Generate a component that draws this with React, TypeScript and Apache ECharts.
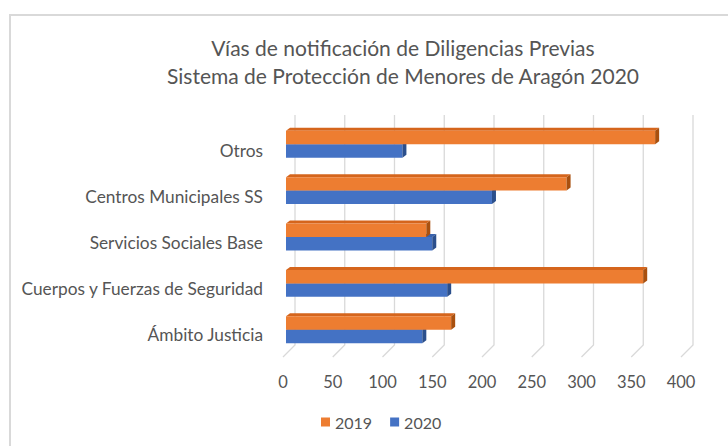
import React, { useEffect, useRef } from "react";
import * as echarts from "echarts";

const titleLine1 = "Vías de notificación de Diligencias Previas";
const titleLine2 = "Sistema de Protección de Menores de Aragón 2020";
const categories = [
  "Otros",
  "Centros Municipales SS",
  "Servicios Sociales Base",
  "Cuerpos y Fuerzas de Seguridad",
  "Ámbito Justicia",
];
const values2019 = [371, 282, 141, 359, 166];
const values2020 = [117, 207, 147, 162, 137];
const xTicks = [0, 50, 100, 150, 200, 250, 300, 350, 400];
const seriesNames = ["2019", "2020"];

const FONT = "Lato";
const TXT = "#555555";
const ORANGE = "#ED7D31";
const ORANGE_TOP = "#D5651C";
const ORANGE_SIDE = "#A9500F";
const BLUE = "#4472C4";
const BLUE_TOP = "#3A63AD";
const BLUE_SIDE = "#2B4F8C";

function makeBarRender(upper: boolean, color: string, top: string, side: string) {
  return (params: any, api: any) => {
    const v = api.value(0);
    const c = api.value(1);
    const start = api.coord([0, c]);
    const end = api.coord([v, c]);
    const band = api.size([0, 1])[1];
    const h = band * 0.29;
    const y0 = upper ? start[1] - h : start[1];
    const y1 = y0 + h;
    const x0 = start[0];
    const x1 = end[0];
    const dx = 4;
    const dy = -3;
    return {
      type: "group",
      children: [
        {
          type: "polygon",
          shape: { points: [[x0, y0], [x0 + dx, y0 + dy], [x1 + dx, y0 + dy], [x1, y0]] },
          style: { fill: top },
        },
        {
          type: "rect",
          shape: { x: x0, y: y0, width: x1 - x0, height: h },
          style: { fill: color },
        },
        {
          type: "polygon",
          shape: { points: [[x1, y0], [x1 + dx, y0 + dy], [x1 + dx, y1 + dy], [x1, y1]] },
          style: { fill: side },
        },
      ],
    };
  };
}

export default function App() {
  const ref = useRef<HTMLDivElement>(null);
  useEffect(() => {
    if (!ref.current) return;
    const chart = echarts.init(ref.current, undefined, { renderer: "svg" });
    const option: any = {
      animation: false,
      backgroundColor: "#ffffff",
      graphic: [
        {
          type: "rect",
          shape: { x: 10, y: 15, width: 760, height: 460 },
          style: { fill: "none", stroke: "#d9d9d9", lineWidth: 2 },
          z: -10,
        },
        {
          type: "text",
          x: 403,
          y: 47,
          style: {
            text: titleLine1,
            fill: TXT,
            font: `21px ${FONT}`,
            textAlign: "center",
            textVerticalAlign: "middle",
          },
        },
        {
          type: "text",
          x: 403,
          y: 75,
          style: {
            text: titleLine2,
            fill: TXT,
            font: `21px ${FONT}`,
            textAlign: "center",
            textVerticalAlign: "middle",
          },
        },
      ],
      legend: {
        data: seriesNames,
        left: 321,
        top: 414,
        padding: 0,
        icon: "rect",
        itemWidth: 9,
        itemHeight: 9,
        itemGap: 18,
        textStyle: { fontFamily: FONT, fontSize: 16, color: TXT },
      },
      grid: [
        { left: 286, top: 121, width: 398, height: 232 },
        { left: 295, top: 115, width: 398, height: 230 },
        { left: 283, top: 127, width: 398, height: 231 },
      ],
      xAxis: [
        { gridIndex: 0, type: "value", min: 0, max: 400, show: false },
        { gridIndex: 1, type: "value", min: 0, max: 400, show: false },
        {
          gridIndex: 2,
          type: "value",
          min: 0,
          max: 400,
          interval: 50,
          axisLine: { show: false },
          axisTick: { show: false },
          splitLine: { show: false },
          axisLabel: { margin: 15, color: TXT, fontFamily: FONT, fontSize: 16.5 },
        },
      ],
      yAxis: [
        { gridIndex: 0, type: "category", data: categories, inverse: true, show: false },
        { gridIndex: 1, type: "value", min: 0, max: 1, show: false },
        {
          gridIndex: 2,
          type: "category",
          data: categories,
          inverse: true,
          axisLine: { show: false },
          axisTick: { show: false },
          splitLine: { show: false },
          axisLabel: { margin: 20, color: TXT, fontFamily: FONT, fontSize: 17.3 },
        },
      ],
      series: [
        {
          type: "custom",
          name: "grid",
          xAxisIndex: 1,
          yAxisIndex: 1,
          silent: true,
          z: 1,
          data: xTicks.map((v) => [v]),
          renderItem: (params: any, api: any) => {
            const v = api.value(0);
            const top = api.coord([v, 1]);
            const bot = api.coord([v, 0]);
            return {
              type: "polyline",
              shape: { points: [top, bot, [bot[0] - 12, bot[1] + 12]] },
              style: { stroke: "#d9d9d9", lineWidth: 1.3, fill: "none" },
            };
          },
        },
        {
          type: "custom",
          name: "2020",
          xAxisIndex: 0,
          yAxisIndex: 0,
          z: 2,
          itemStyle: { color: BLUE },
          encode: { x: 0, y: 1 },
          data: values2020.map((v, i) => [v, i]),
          renderItem: makeBarRender(false, BLUE, BLUE_TOP, BLUE_SIDE),
        },
        {
          type: "custom",
          name: "2019",
          xAxisIndex: 0,
          yAxisIndex: 0,
          z: 3,
          itemStyle: { color: ORANGE },
          encode: { x: 0, y: 1 },
          data: values2019.map((v, i) => [v, i]),
          renderItem: makeBarRender(true, ORANGE, ORANGE_TOP, ORANGE_SIDE),
        },
      ],
    };
    chart.setOption(option);
    return () => chart.dispose();
  }, []);
  return (
    <div
      ref={ref}
      style={{ position: "fixed", left: 0, top: 0, width: 728, height: 446, background: "#fff" }}
    />
  );
}
